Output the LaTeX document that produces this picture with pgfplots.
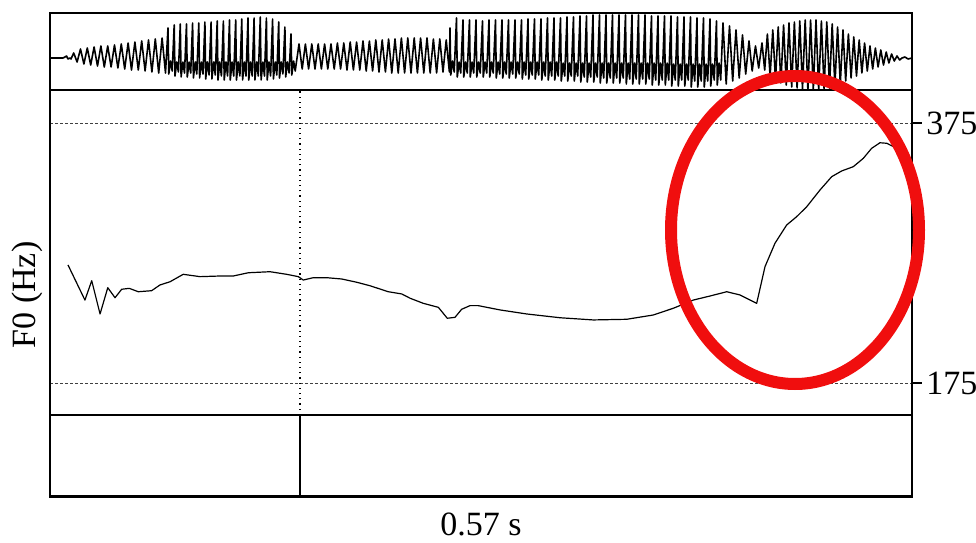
\documentclass[border=0pt]{standalone}
\usepackage{fontspec}
\setmainfont{Liberation Serif}
\usepackage{pgfplots}
\pgfplotsset{compat=1.18}
\definecolor{ellred}{RGB}{240,14,14}
\begin{document}
\begin{tikzpicture}
\path[use as bounding box] (0pt,0pt) rectangle (488pt,271pt);
% ---------------- waveform ----------------
\begin{axis}[at={(25pt,226pt)}, anchor=south west, width=431pt, height=38.5pt,
  scale only axis, xmin=0, xmax=0.57, ymin=-32, ymax=45,
  xtick=\empty, ytick=\empty, axis line style={line width=1.3pt}, clip=true]
\addplot[black, line width=0.8pt, line join=round] table[x expr={(\thisrowno{0}-50)*0.57/862}, y index=1] {
50 0
63 0
65 1
66.5 2
68 -1
70 0
71 -1
73.7 5
77.1 -4
80.5 9
83.9 -6
87.3 10
90.7 -7
94.1 11
97.5 -8
100.9 12
104.3 -9
107.7 12
111.1 -9
114.5 13
117.9 -10
121.3 14
124.7 -11
128.1 15
131.5 -12
134.9 16
138.3 -12
141.7 17
145.1 -13
148.5 18
151.9 -14
155.3 19
158.7 -15
162.1 20
165.5 -15
168.0 30
168.8 -16
170.6 -3
172.2 -13
174.2 33
175.0 -18
176.8 -4
178.4 -14
180.3 34
181.1 -19
182.9 -4
184.5 -15
186.5 34
187.3 -19
189.1 -4
190.7 -15
192.6 35
193.4 -20
195.2 -4
196.8 -16
198.8 35
199.6 -20
201.4 -4
203.0 -16
204.9 36
205.7 -21
207.5 -4
209.1 -17
211.1 36
211.9 -21
213.7 -4
215.3 -17
217.2 37
218.0 -22
219.8 -4
221.4 -18
223.4 37
224.2 -22
226.0 -4
227.6 -18
229.5 38
230.3 -22
232.1 -4
233.7 -18
235.7 38
236.5 -22
238.3 -4
239.9 -18
241.8 39
242.6 -22
244.4 -4
246.0 -18
248.0 40
248.8 -22
250.6 -4
252.2 -18
254.1 40
254.9 -22
256.7 -4
258.3 -18
260.3 41
261.1 -22
262.9 -4
264.5 -18
266.4 40
267.2 -22
269.0 -4
270.6 -18
272.6 39
273.4 -21
275.2 -4
276.8 -17
278.7 36
279.5 -20
281.3 -4
282.9 -16
284.9 31
285.7 -19
287.5 -4
289.1 -15
291.0 24
291.8 -17
293.6 -3
295.2 -13
299.0 14
302.2 -11
305.4 14
308.6 -11
311.8 14
315.0 -11
318.2 14
321.4 -11
324.6 14
327.8 -11
331.0 14
334.2 -11
337.4 15
340.6 -11
343.8 15
347.0 -12
350.2 16
353.4 -12
356.6 16
359.8 -12
363.0 17
366.2 -13
369.4 17
372.6 -13
375.8 18
379.0 -14
382.2 18
385.4 -14
388.6 19
391.8 -15
395.0 19
398.2 -15
401.4 20
404.6 -15
407.8 20
411.0 -15
414.2 20
417.4 -15
420.6 20
423.8 -15
427.0 20
430.2 -15
433.4 19
436.6 -15
439.8 19
443.0 -14
446.2 18
449.4 -14
450.0 30
450.8 -17
452.6 -3
454.2 -14
456.5 40
457.3 -19
459.1 -4
460.7 -15
463.0 38
463.8 -19
465.6 -4
467.2 -15
469.5 38
470.3 -19
472.1 -4
473.7 -15
476.0 38
476.8 -19
478.6 -4
480.2 -15
482.5 37
483.3 -19
485.1 -4
486.7 -15
489.0 38
489.8 -19
491.6 -4
493.2 -15
495.5 38
496.3 -20
498.1 -4
499.7 -16
502.0 38
502.8 -20
504.6 -4
506.2 -16
508.5 38
509.3 -20
511.1 -4
512.7 -16
515.0 38
515.8 -20
517.6 -4
519.2 -16
521.5 38
522.3 -21
524.1 -4
525.7 -17
528.0 39
528.8 -21
530.6 -4
532.2 -17
534.5 39
535.3 -21
537.1 -4
538.7 -17
541.0 39
541.8 -22
543.6 -4
545.2 -18
547.5 40
548.3 -22
550.1 -4
551.7 -18
554.0 40
554.8 -22
556.6 -4
558.2 -18
560.5 40
561.3 -23
563.1 -5
564.7 -18
567.0 41
567.8 -23
569.6 -5
571.2 -18
573.5 41
574.3 -23
576.1 -5
577.7 -18
580.0 42
580.8 -24
582.6 -5
584.2 -19
586.5 42
587.3 -24
589.1 -5
590.7 -19
593.0 43
593.8 -24
595.6 -5
597.2 -19
599.5 43
600.3 -25
602.1 -5
603.7 -20
606.0 43
606.8 -25
608.6 -5
610.2 -20
612.5 43
613.3 -25
615.1 -5
616.7 -20
619.0 43
619.8 -25
621.6 -5
623.2 -20
625.5 43
626.3 -26
628.1 -5
629.7 -21
632.0 43
632.8 -26
634.6 -5
636.2 -21
638.5 43
639.3 -26
641.1 -5
642.7 -21
645.0 43
645.8 -26
647.6 -5
649.2 -21
651.5 42
652.3 -27
654.1 -5
655.7 -22
658.0 42
658.8 -27
660.6 -5
662.2 -22
664.5 42
665.3 -27
667.1 -5
668.7 -22
671.0 42
671.8 -28
673.6 -6
675.2 -22
677.5 41
678.3 -28
680.1 -6
681.7 -22
684.0 41
684.8 -28
686.6 -6
688.2 -22
690.5 41
691.3 -29
693.1 -6
694.7 -23
697.0 40
697.8 -29
699.6 -6
701.2 -23
703.5 40
704.3 -29
706.1 -6
707.7 -23
710.0 39
710.8 -28
712.6 -6
714.2 -22
716.5 37
717.3 -27
719.1 -5
720.7 -22
723.0 35
726.2 -26
729.5 32
732.7 -23
736.0 28
739.2 -20
742.5 23
745.7 -16
749.0 17
752.2 -13
755.5 12
758.7 -10
762.0 15
764.7 -12
767.4 24
770.1 -18
772.8 28
775.5 -22
778.2 31
780.9 -25
783.6 33
786.3 -27
789.0 35
791.7 -29
794.4 36
797.1 -30
799.8 37
802.5 -31
805.2 38
807.9 -32
810.6 38
813.3 -32
816.0 38
818.7 -32
821.4 37
824.1 -31
826.8 36
829.5 -30
832.2 34
834.9 -28
837.6 31
840.3 -26
843.0 28
845.7 -23
848.4 24
851.1 -20
853.8 21
856.5 -18
859.2 18
861.9 -15
864.6 15
867.3 -13
870.0 12
872.7 -11
875.4 10
878.1 -9
880.8 8
883.5 -7
886.2 6
888.9 -5
891.6 4
894.3 -3
897.0 2
899.7 -2
902 0
905 1
908 -1
912 0
};
\end{axis}
% ---------------- F0 panel ----------------
\begin{axis}[at={(25pt,63.5pt)}, anchor=south west, width=431pt, height=162.5pt,
  scale only axis, xmin=0, xmax=0.57, ymin=150.38, ymax=400.38,
  xtick=\empty, ytick={175,375}, ytick pos=right, yticklabel pos=right,
  tick align=outside, major tick length=5pt,
  tick style={black, line width=0.6pt},
  ymajorgrids, grid style={black!75, line width=0.45pt, dash pattern=on 1.4pt off 1.1pt},
  axis line style={line width=0.6pt},
  yticklabel style={font=\fontsize{17}{20}\selectfont, /pgf/number format/assume math mode=true, inner xsep=2pt},
  clip=true]
\addplot[black, line width=0.6pt, dash pattern=on 0.6pt off 2pt] coordinates {(0.1653,150.38) (0.1653,400.38)};
\addplot[black, line width=0.6pt, line join=round] coordinates {
(0.0119,265.8) (0.0231,238.8) (0.0276,253.7) (0.0331,228.1) (0.0382,248.3) (0.0430,240.6)
(0.0474,247.1) (0.0524,247.8) (0.0584,245.2) (0.0672,246.0) (0.0727,250.4) (0.0794,252.9)
(0.0881,258.6) (0.0992,256.8) (0.1124,257.3) (0.1212,257.3) (0.1311,259.8) (0.1455,260.6)
(0.1565,258.6) (0.1642,256.8) (0.1675,254.2) (0.1741,256.0) (0.1830,256.0) (0.1929,255.0)
(0.2028,252.5) (0.2116,249.8) (0.2237,245.2) (0.2326,243.5) (0.2381,240.2) (0.2468,236.3)
(0.2568,233.2) (0.2627,224.8) (0.2678,225.5) (0.2722,231.7) (0.2777,234.5) (0.2832,234.5)
(0.2976,231.2) (0.3152,228.1) (0.3372,225.2) (0.3593,223.5) (0.3813,224.0) (0.3989,227.3)
(0.4122,232.5) (0.4254,238.8) (0.4364,241.9) (0.4475,245.2) (0.4563,242.7) (0.4629,238.8)
(0.4673,236.3) (0.4728,264.5) (0.4794,282.5) (0.4871,296.5) (0.4937,302.9) (0.5004,310.6)
(0.5092,323.5) (0.5169,333.7) (0.5235,338.1) (0.5312,341.4) (0.5378,347.8) (0.5433,355.5)
(0.5488,359.8) (0.5533,359.4) (0.5599,355.5)
};
\end{axis}
% ---------------- tier ----------------
\begin{axis}[at={(25pt,22.75pt)}, anchor=south west, width=431pt, height=40.75pt,
  scale only axis, xmin=0, xmax=0.57, ymin=0, ymax=1,
  xtick=\empty, ytick=\empty, axis line style={line width=0.6pt}]
\addplot[black, line width=0.6pt] coordinates {(0.1653,0) (0.1653,1)};
\end{axis}
% frame
\draw[line width=1.3pt] (25pt,22.75pt) rectangle (456pt,264.5pt);
\draw[line width=1.3pt] (25pt,226pt) -- (456pt,226pt);
% labels
\node[rotate=90, font=\fontsize{17}{20}\selectfont] at (13.75pt,123.5pt) {F0 (Hz)};
\node[anchor=base, font=\fontsize{17}{20}\selectfont, inner sep=0pt] at (240.5pt,3.5pt) {0.57 s};
% annotation
\draw[ellred, line width=6pt] (397.5pt,156pt) ellipse [x radius=62pt, y radius=77pt];
\end{tikzpicture}
\end{document}
